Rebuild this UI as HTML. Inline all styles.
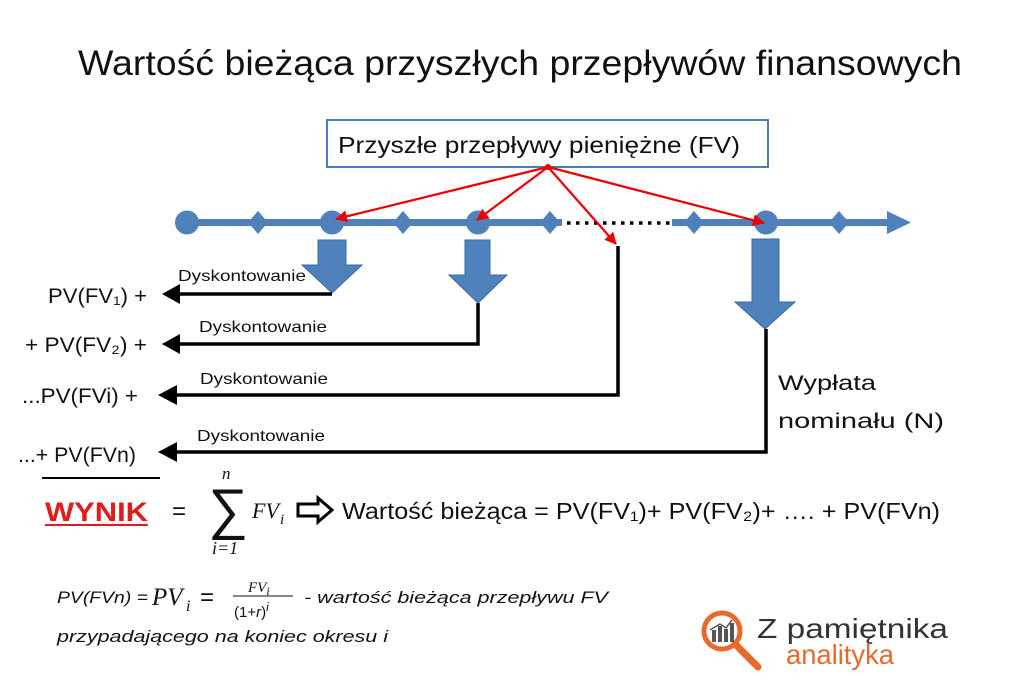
<!DOCTYPE html>
<html><head><meta charset="utf-8"><style>
body{margin:0;background:#fff;width:1024px;height:681px;overflow:hidden}
svg{display:block}
text{font-family:"Liberation Sans","DejaVu Sans",sans-serif}
.m{font-family:"Liberation Serif",serif;font-style:italic}
</style></head><body>
<svg width="1024" height="681" viewBox="0 0 1024 681" xmlns="http://www.w3.org/2000/svg">
<defs>
<marker id="ra2" markerWidth="12" markerHeight="12" refX="11" refY="6" orient="auto" markerUnits="userSpaceOnUse"><path d="M0,0 L12,6 L0,12 Z" fill="#e00"/></marker>
</defs>
<text x="78" y="75" font-size="35" textLength="884" lengthAdjust="spacingAndGlyphs" fill="#111">Wartość bieżąca przyszłych przepływów finansowych</text>
<rect x="327" y="120" width="441" height="47" fill="#fff" stroke="#4a7ebb" stroke-width="2"/>
<text x="338" y="153" font-size="23" textLength="402" lengthAdjust="spacingAndGlyphs" fill="#111">Przyszłe przepływy pieniężne (FV)</text>
<g fill="#4f81bd" stroke="none">
<rect x="187" y="219" width="375" height="7"/>
<rect x="672" y="219" width="218" height="7"/>
<path d="M887,211 L911,222.5 L887,234 Z"/>
<circle cx="187" cy="222.5" r="12"/>
<circle cx="332" cy="222.5" r="12"/>
<circle cx="478" cy="222.5" r="12"/>
<circle cx="766" cy="222.5" r="12"/>
<path d="M258,211 l10,11.5 l-10,11.5 l-10,-11.5 Z"/>
<path d="M403,211 l10,11.5 l-10,11.5 l-10,-11.5 Z"/>
<path d="M550,211 l10,11.5 l-10,11.5 l-10,-11.5 Z"/>
<path d="M694,211 l10,11.5 l-10,11.5 l-10,-11.5 Z"/>
<path d="M839,211 l10,11.5 l-10,11.5 l-10,-11.5 Z"/>
</g>
<line x1="567" y1="223" x2="670" y2="223" stroke="#000" stroke-width="3.5" stroke-dasharray="3.5,5.5"/>
<g fill="#4f81bd" stroke="#3a6aa5" stroke-width="1">
<path d="M318,240 h28 v25 h16 l-30,28 l-30,-28 h16 Z"/>
<path d="M465,240 h25 v35 h17 l-29,28 l-29,-28 h16 Z"/>
<path d="M752,239 h27 v63 h16 l-30,27 l-30,-27 h17 Z"/>
</g>
<g stroke="#e00" stroke-width="2.2" fill="none">
<line x1="548" y1="167" x2="336" y2="219" marker-end="url(#ra2)"/>
<line x1="548" y1="167" x2="477" y2="220" marker-end="url(#ra2)"/>
<line x1="548" y1="167" x2="616" y2="244" marker-end="url(#ra2)"/>
<line x1="548" y1="167" x2="764" y2="223" marker-end="url(#ra2)"/>
</g>
<circle cx="548" cy="167" r="3" fill="#e00"/>
<g stroke="#000" stroke-width="3.5" fill="none">
<polyline points="332,294 178,294"/>
<polyline points="478,303 478,344 178,344"/>
<polyline points="618,246 618,395 175,395"/>
<polyline points="766,329 766,452 175,452"/>
</g>
<g fill="#000">
<path d="M162,294 l18,-10 v20 Z"/>
<path d="M162,344 l18,-10 v20 Z"/>
<path d="M158,395 l19,-10 v20 Z"/>
<path d="M158,452 l19,-10 v20 Z"/>
</g>
<g font-size="16" fill="#111">
<text x="178" y="281" textLength="128" lengthAdjust="spacingAndGlyphs">Dyskontowanie</text>
<text x="199" y="332" textLength="128" lengthAdjust="spacingAndGlyphs">Dyskontowanie</text>
<text x="200" y="384" textLength="128" lengthAdjust="spacingAndGlyphs">Dyskontowanie</text>
<text x="197" y="441" textLength="128" lengthAdjust="spacingAndGlyphs">Dyskontowanie</text>
</g>
<g font-size="21" fill="#111">
<text x="48" y="303" textLength="99" lengthAdjust="spacingAndGlyphs">PV(FV₁) +</text>
<text x="25" y="352" textLength="122" lengthAdjust="spacingAndGlyphs">+ PV(FV₂) +</text>
<text x="22" y="403" textLength="116" lengthAdjust="spacingAndGlyphs">...PV(FVi) +</text>
<text x="18" y="462" textLength="118" lengthAdjust="spacingAndGlyphs">...+ PV(FVn)</text>
<text x="778" y="390" textLength="98" lengthAdjust="spacingAndGlyphs">Wypłata</text>
<text x="778" y="428" textLength="166" lengthAdjust="spacingAndGlyphs">nominału  (N)</text>
</g>
<line x1="42" y1="478" x2="160" y2="478" stroke="#000" stroke-width="2"/>
<text x="45" y="521" font-size="27" font-weight="bold" fill="#e31b1b" textLength="103" lengthAdjust="spacingAndGlyphs">WYNIK</text>
<line x1="45" y1="525" x2="148" y2="525" stroke="#e31b1b" stroke-width="2"/>
<text x="172" y="519" font-size="24" fill="#111">=</text>
<text x="208" y="528" font-size="56" fill="#111" font-family="DejaVu Serif,serif">∑</text>
<text x="222" y="479" class="m" font-size="17" fill="#111">n</text>
<text x="212" y="554" class="m" font-size="18" fill="#111">i=1</text>
<text x="252" y="518" class="m" font-size="22" fill="#111">FV</text>
<text x="280" y="524" class="m" font-size="15" fill="#111">i</text>
<path d="M298,504 h20 v-6 l14,12 l-14,12 v-6 h-20 Z" fill="#fff" stroke="#000" stroke-width="3"/>
<text x="342" y="519" font-size="23" fill="#111" textLength="598" lengthAdjust="spacingAndGlyphs">Wartość bieżąca = PV(FV₁)+ PV(FV₂)+ …. + PV(FVn)</text>
<text x="57" y="603" font-size="17" font-style="italic" fill="#111" textLength="91" lengthAdjust="spacingAndGlyphs">PV(FVn) = </text>
<text x="152" y="605" class="m" font-size="25" fill="#111">PV</text>
<text x="186" y="611" class="m" font-size="16" fill="#111">i</text>
<text x="200" y="605" font-family="Liberation Serif,serif" font-size="24" fill="#111">=</text>
<text x="248" y="592" class="m" font-size="15" fill="#111">FV<tspan font-size="12" dy="3">i</tspan></text>
<line x1="233" y1="596" x2="293" y2="596" stroke="#111" stroke-width="1"/>
<text x="234" y="617" font-family="Liberation Serif,serif" font-size="15" fill="#111">(1+<tspan font-style="italic">r</tspan>)<tspan font-size="12" dy="-6" font-style="italic">i</tspan></text>
<text x="304" y="603" font-size="17" font-style="italic" fill="#111" textLength="304" lengthAdjust="spacingAndGlyphs">- wartość bieżąca przepływu FV</text>
<text x="57" y="642" font-size="17" font-style="italic" fill="#111" textLength="331" lengthAdjust="spacingAndGlyphs">przypadającego na koniec okresu i</text>
<circle cx="722" cy="631" r="18" fill="none" stroke="#e8692c" stroke-width="5"/>
<line x1="735" y1="644" x2="758" y2="667" stroke="#e8692c" stroke-width="7" stroke-linecap="round"/>
<g fill="#555"><rect x="712" y="630" width="4" height="12"/><rect x="718" y="626" width="4" height="16"/><rect x="724" y="629" width="4" height="13"/><rect x="730" y="623" width="4" height="19"/></g>
<polyline points="710,630 720,624 726,628 732,620" fill="none" stroke="#555" stroke-width="1.5"/>
<text x="757" y="638" font-size="28" fill="#333" textLength="191" lengthAdjust="spacingAndGlyphs">Z pamiętnika</text>
<text x="786" y="664" font-size="28" fill="#e8692c" textLength="108" lengthAdjust="spacingAndGlyphs">analityka</text>
</svg>
</body></html>
